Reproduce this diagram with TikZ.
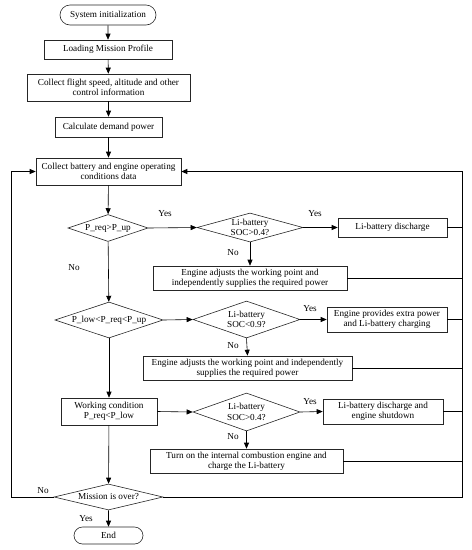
\documentclass[tikz,border=0pt]{standalone}
\usepackage{fontspec}
\setmainfont{Liberation Serif}
\usetikzlibrary{shapes.geometric,shapes.misc,arrows.meta}
\tikzset{
  base/.style={draw=black!85, line width=0.6pt, inner sep=0pt, align=center, font=\fontsize{9.2}{10.4}\selectfont},
  procbox/.style={base, rectangle},
  termbox/.style={base, rounded rectangle},
  decbox/.style={base, diamond},
  lbl/.style={font=\fontsize{9.2}{10.4}\selectfont, inner sep=0pt},
  arr/.style={line width=0.6pt, -{Triangle[length=6pt,width=5pt]}},
  ln/.style={line width=0.6pt},
  bus/.style={line width=1pt},
}
\begin{document}
\begin{tikzpicture}[x=1pt,y=-1pt]
\useasboundingbox (0,0) rectangle (472,550);
\node[termbox, minimum width=96pt, minimum height=20pt] (start) at (108,15) {System initialization};
\node[procbox, minimum width=128pt, minimum height=19pt] (load) at (108,49.5) {Loading Mission Profile};
\node[procbox, minimum width=163pt, minimum height=27pt] (flight) at (108.5,87.5) {Collect flight speed, altitude and other\\control information};
\node[procbox, minimum width=107pt, minimum height=20pt] (calc) at (108.5,127) {Calculate demand power};
\node[procbox, minimum width=145pt, minimum height=27pt] (collect) at (108.5,171.5) {Collect battery and engine operating\\conditions data};

\node[decbox, minimum width=80pt, minimum height=27pt, label={[lbl]center:P\_req>P\_up}] (d1) at (108,228) {};
\node[decbox, minimum width=106pt, minimum height=29pt, label={[lbl,align=center]center:Li-battery\\SOC>0.4?}] (d2) at (250,227.5) {};
\node[procbox, minimum width=109pt, minimum height=19pt] (dis1) at (392.5,227.5) {Li-battery discharge};
\node[procbox, minimum width=194pt, minimum height=24pt] (eng1) at (250,278) {Engine adjusts the working point and\\independently supplies the required power};

\node[decbox, minimum width=108pt, minimum height=36pt, label={[lbl]center:P\_low<P\_req<P\_up}] (d3) at (109,320) {};
\node[decbox, minimum width=107pt, minimum height=37pt, label={[lbl,align=center]center:Li-battery\\SOC<0.9?}] (d4) at (246.5,319.5) {};
\node[procbox, minimum width=120pt, minimum height=25pt] (extra) at (387,319.5) {Engine provides extra power\\and Li-battery charging};
\node[procbox, minimum width=209pt, minimum height=24pt] (eng2) at (247.5,368) {Engine adjusts the working point and independently\\supplies the required power};

\node[procbox, minimum width=96pt, minimum height=27pt] (work) at (109,411.5) {Working condition\\P\_req<P\_low};
\node[decbox, minimum width=107pt, minimum height=38pt, label={[lbl,align=center]center:Li-battery\\SOC>0.4?}] (d5) at (246.5,412) {};
\node[procbox, minimum width=120pt, minimum height=25pt] (dis2) at (383,411.5) {Li-battery discharge and\\engine shutdown};
\node[procbox, minimum width=193pt, minimum height=24pt] (turn) at (246.5,461) {Turn on the internal combustion engine and\\charge the Li-battery};

\node[decbox, minimum width=109pt, minimum height=26pt, label={[lbl]center:Mission is over?}] (mission) at (108.5,497) {};
\node[termbox, minimum width=69pt, minimum height=17pt] (end) at (108.5,535.5) {End};

\coordinate (rb) at (462.5,0);
\coordinate (lb) at (11,0);

% main column
\draw[arr] (start) -- (load);
\draw[arr] (load) -- (flight);
\draw[arr] (flight) -- (calc);
\draw[arr] (calc) -- (collect);
\draw[arr] (collect) -- (d1);
\draw[arr] (d1) -- (d3);
\draw[arr] (d3) -- (work);
\draw[arr] (work) -- (mission);
\draw[arr] (mission) -- (end);

% branches
\draw[arr] (d1.east) -- (d2.west);
\draw[arr] (d2.east) -- (dis1.west);
\draw[arr] (d2.south) -- (eng1.north);
\draw[arr] (d3.east) -- (d4.west);
\draw[arr] (d4.east) -- (extra.west);
\draw[arr] (d4.south) -- (eng2.north);
\draw[arr] (work.east) -- (d5.west);
\draw[arr] (d5.east) -- (dis2.west);
\draw[arr] (d5.south) -- (turn.north);

% returns to bus
\draw[ln] (dis1.east) -- (dis1.east -| rb);
\draw[ln] (eng1.east) -- (eng1.east -| rb);
\draw[ln] (extra.east) -- (extra.east -| rb);
\draw[ln] (eng2.east) -- (eng2.east -| rb);
\draw[ln] (dis2.east) -- (dis2.east -| rb);
\draw[ln] (turn.east) -- (turn.east -| rb);
\draw[bus, -{Triangle[length=6pt,width=5pt]}] (mission.east) -| (collect.east -| rb) -- (collect.east);
\draw[arr] (mission.west) -| (collect.west -| lb) -- (collect.west);

% labels
\node[lbl] (y1) at (165,214) {Yes};
\node[lbl] (y2) at (315,214) {Yes};
\node[lbl] (n2) at (233,253) {No};
\node[lbl] (n1) at (74,268) {No};
\node[lbl] (y4) at (310,309) {Yes};
\node[lbl] (n4) at (233,346) {No};
\node[lbl] (y5) at (310,402) {Yes};
\node[lbl] (n5) at (233,437) {No};
\node[lbl] (nm) at (43,491) {No};
\node[lbl] (ym) at (86,519) {Yes};
\end{tikzpicture}
\end{document}
